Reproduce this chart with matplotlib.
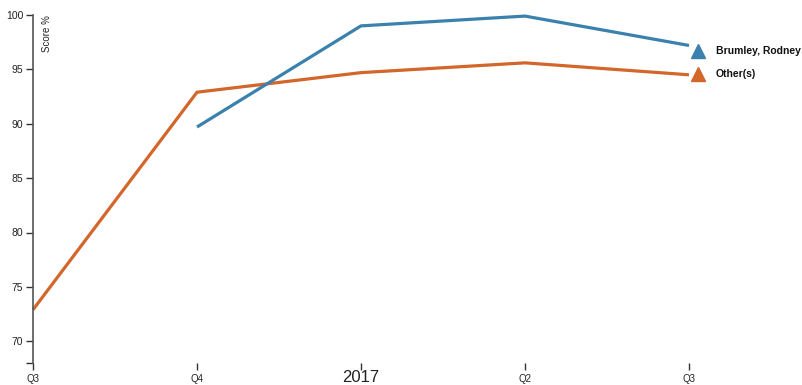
import matplotlib
matplotlib.use("Agg")
import matplotlib.pyplot as plt
from matplotlib.lines import Line2D

W, H = 803, 385
fig = plt.figure(figsize=(W/100, H/100), dpi=100)
plt.rcParams['font.family'] = ['Liberation Sans', 'DejaVu Sans']

tick_labels = ["Q3", "Q4", "2017", "Q2", "Q3"]
brumley_x = [1, 2, 3, 4]
brumley = [89.7, 99.0, 99.9, 97.2]
other_x = [0, 1, 2, 3, 4]
other = [72.9, 92.9, 94.7, 95.6, 94.5]
series_names = ["Brumley, Rodney", "Other(s)"]
blue = "#3b81ad"
orange = "#d2662b"

def px(x0, y0, x1, y1):
    return [x0/W, 1 - y1/H, (x1-x0)/W, (y1-y0)/H]

ax = fig.add_axes(px(33, 15, 689, 363))
ax.set_xlim(0, 4)
ax.set_ylim(68, 100)

ax.plot(other_x, other, color=orange, lw=2.3, clip_on=False, solid_capstyle='butt')
ax.plot(brumley_x, brumley, color=blue, lw=2.3, clip_on=False, solid_capstyle='butt')

for s in ["top", "right", "bottom"]:
    ax.spines[s].set_visible(False)
ax.spines["left"].set_color("#555555")
ax.spines["left"].set_linewidth(1.2)

ax.set_yticks([70, 75, 80, 85, 90, 95, 100])
ax.set_yticks([68], minor=True)
ax.tick_params(axis='y', which='both', length=5, width=1, color="#333333",
               labelsize=7.5, labelcolor="#222222", pad=2)
ax.tick_params(axis='y', which='minor', length=5)

ax.set_xticks(range(5))
ax.set_xticklabels(tick_labels)
ax.tick_params(axis='x', length=5, width=1, color="#333333", labelsize=7,
               labelcolor="#222222", pad=3, direction='out')
for i, lab in enumerate(ax.get_xticklabels()):
    if tick_labels[i] == "2017":
        lab.set_fontsize(12)
        lab.set_y(0.012)

ax.text(42/W, 1 - 15/H, "Score %", transform=fig.transFigure, rotation=90,
        fontsize=7, va='top', ha='left', color="#222222")

# legend
for name, col, y in [(series_names[0], blue, 51), (series_names[1], orange, 74)]:
    fig.add_artist(Line2D([698/W], [1 - y/H], marker='^', markersize=10,
                          color=col, linestyle='none', transform=fig.transFigure))
    fig.text(716/W, 1 - y/H, name, fontsize=7.5, fontweight='bold',
             va='center', ha='left', color="#111111")

fig.savefig("out.png", dpi=100, facecolor="white")
